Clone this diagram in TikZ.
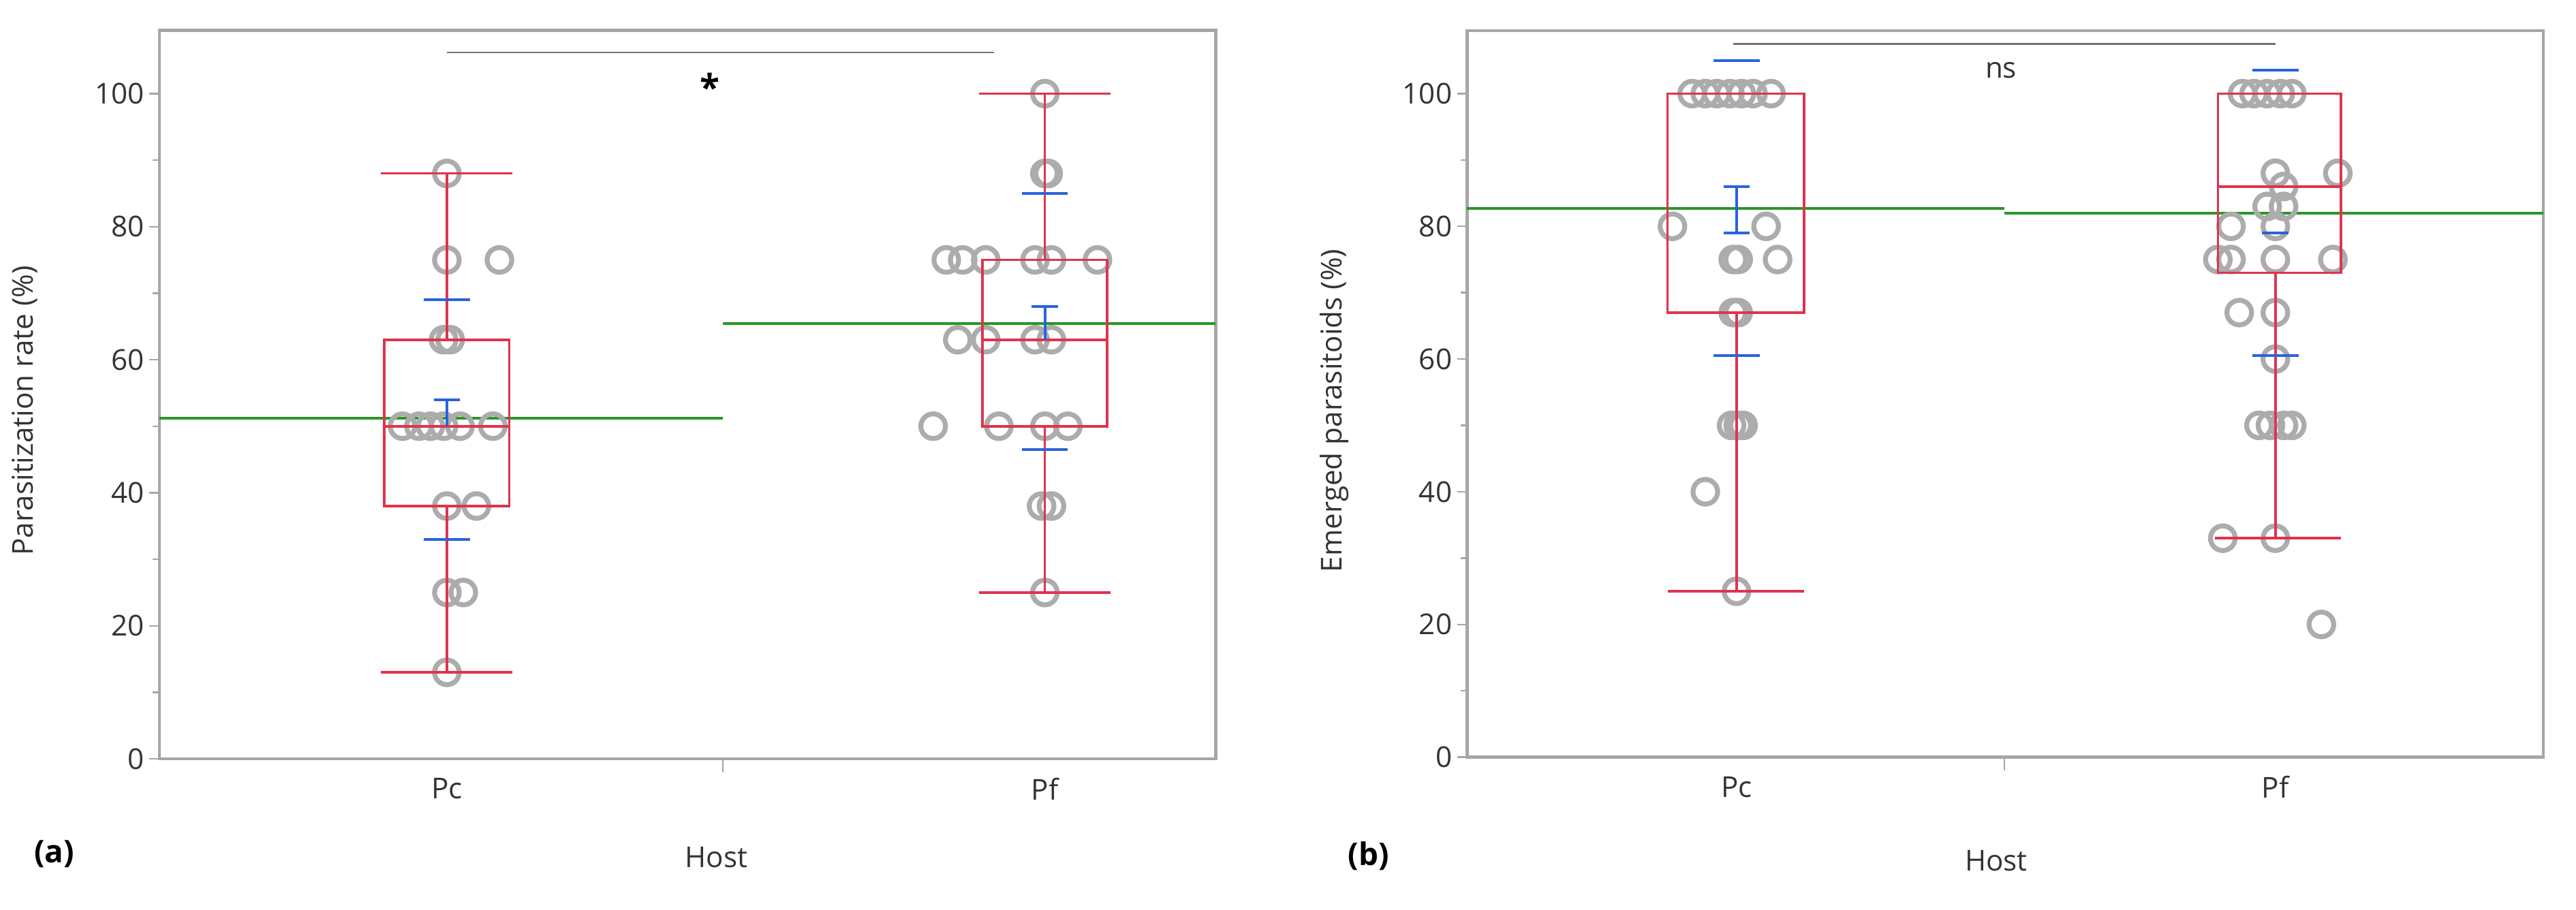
\documentclass[tikz,border=0pt]{standalone}
\usepackage{fontspec}
\setmainfont{Open Sans}
\definecolor{bred}{RGB}{222,52,78}
\definecolor{bblue}{RGB}{40,100,220}
\definecolor{bgreen}{RGB}{40,150,40}
\begin{document}
\begin{tikzpicture}[x=1pt,y=1pt,
  frame/.style={draw=gray!70,line width=1.8pt},
  pt/.style={draw=gray!65,line width=3pt},
  box/.style={draw=bred,line width=1.5pt},
  bl/.style={draw=bblue,line width=1.6pt},
  gr/.style={draw=bgreen,line width=1.6pt},
  tl/.style={font=\fontsize{17.5}{17.5}\selectfont,anchor=east,inner sep=1pt,text=black!80},
  lab/.style={font=\fontsize{17.5}{17.5}\selectfont,text=black!80}]
\useasboundingbox (0,0) rectangle (1568,554);
\fill[white] (0,0) rectangle (1568,554);
% ===== panel a =====
\begin{scope}[shift={(0,92)},y=4.05pt]
\draw[frame] (97,0) rectangle (740,109.5);
\foreach \v in {0,20,...,100}{\draw[frame,line width=1pt] (91,\v)--(97,\v); \node[tl] at (89,\v) {\v};}
\foreach \v in {10,30,...,90}{\draw[frame,line width=1pt] (93,\v)--(97,\v);}
\draw[frame,line width=1pt] (440,0)--(440,-2);
\node[lab] at (272,-4.5) {Pc};
\node[lab] at (636,-4.5) {Pf};
\draw[gr] (97,51.2)--(440,51.2);
\draw[gr] (440,65.4)--(740,65.4);
\foreach \x/\v in {272/88,272/75,304/75,270/63,274/63,245/50,255/50,262/50,270/50,280/50,300/50,272/38,290/38,272/25,282/25,272/13}
  \draw[pt] (\x,\v) circle (7.5pt);
\foreach \x/\v in {636/100,636/88,638/88,576/75,586/75,600/75,630/75,640/75,668/75,583/63,600/63,630/63,640/63,568/50,608/50,636/50,650/50,634/38,640/38,636/25}
  \draw[pt] (\x,\v) circle (7.5pt);
\draw[box] (234,38) rectangle (310,63);
\draw[box] (234,50)--(310,50);
\draw[box] (272,63)--(272,88) (232,88)--(312,88);
\draw[box] (272,38)--(272,13) (232,13)--(312,13);
\draw[box] (598,50) rectangle (674,75);
\draw[box] (598,63)--(674,63);
\draw[box] (636,75)--(636,100) (596,100)--(676,100);
\draw[box] (636,50)--(636,25) (596,25)--(676,25);
\draw[bl] (258,69)--(286,69) (258,33)--(286,33);
\draw[bl] (264,54)--(280,54) (272,54)--(272,50);
\draw[bl] (622,85)--(650,85) (622,46.5)--(650,46.5);
\draw[bl] (628,68)--(644,68) (636,68)--(636,63);
\draw[gray!90!black,line width=1pt] (272,106.2)--(605,106.2);
\node[font=\fontsize{22}{22}\selectfont\bfseries] at (432,101) {*};
\end{scope}
\node[lab,rotate=90] at (15,304) {Parasitization rate (\%)};
\node[lab] at (436,32) {Host};
\node[font=\fontsize{19}{19}\selectfont\bfseries] at (33,34) {(a)};
% ===== panel b =====
\begin{scope}[shift={(0,93)},y=4.04pt]
\draw[frame] (893,0) rectangle (1548,109.5);
\foreach \v in {0,20,...,100}{\draw[frame,line width=1pt] (887,\v)--(893,\v); \node[tl] at (885,\v) {\v};}
\foreach \v in {10,30,...,90}{\draw[frame,line width=1pt] (889,\v)--(893,\v);}
\draw[frame,line width=1pt] (1220,0)--(1220,-2);
\node[lab] at (1057,-4.5) {Pc};
\node[lab] at (1385,-4.5) {Pf};
\draw[gr] (893,82.7)--(1220,82.7);
\draw[gr] (1220,82)--(1548,82);
\foreach \x/\v in {1030/100,1038/100,1045/100,1053/100,1060/100,1067/100,1078/100,1018/80,1075/80,1055/75,1058/75,1082/75,1055/67,1058/67,1054/50,1058/50,1061/50,1038/40,1057/25}
  \draw[pt] (\x,\v) circle (7.5pt);
\foreach \x/\v in {1365/100,1372/100,1380/100,1388/100,1395/100,1385/88,1423/88,1390/86,1380/83,1390/83,1385/80,1358/80,1350/75,1358/75,1385/75,1420/75,1363/67,1385/67,1385/60,1375/50,1382/50,1390/50,1395/50,1353/33,1385/33,1413/20}
  \draw[pt] (\x,\v) circle (7.5pt);
\draw[box] (1015,67) rectangle (1098,100);
\draw[box] (1057,67)--(1057,25) (1015,25)--(1098,25);
\draw[box] (1350,73) rectangle (1425,100);
\draw[box] (1350,86)--(1425,86);
\draw[box] (1385,73)--(1385,33) (1348,33)--(1425,33);
\draw[bl] (1043,105)--(1071,105) (1043,60.5)--(1071,60.5);
\draw[bl] (1049,86)--(1065,86) (1049,79)--(1065,79) (1057,86)--(1057,79);
\draw[bl] (1371,103.5)--(1399,103.5) (1371,60.5)--(1399,60.5);
\draw[bl] (1377,79)--(1393,79);
\draw[gray!90!black,line width=1pt] (1055,107.5)--(1385,107.5);
\node[lab] at (1218,103.5) {ns};
\end{scope}
\node[lab,rotate=90] at (812,304) {Emerged parasitoids (\%)};
\node[lab] at (1215,30) {Host};
\node[font=\fontsize{19}{19}\selectfont\bfseries] at (833,33) {(b)};
\end{tikzpicture}
\end{document}
